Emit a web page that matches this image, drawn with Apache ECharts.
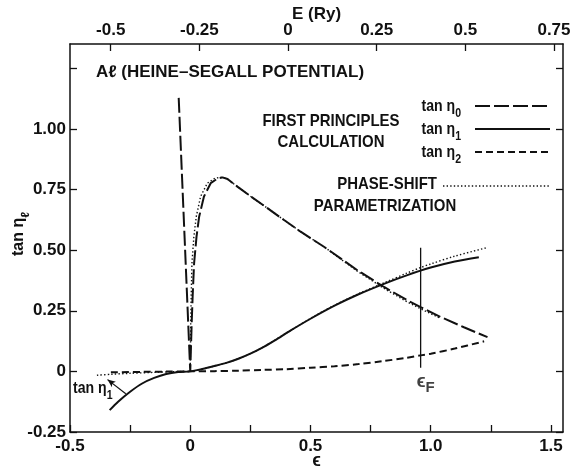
<!DOCTYPE html>
<html>
<head>
<meta charset="utf-8">
<script src="https://cdn.jsdelivr.net/npm/echarts@6/dist/echarts.min.js"></script>
<style>
  html, body { margin: 0; padding: 0; background: #fff; }
  #chart { width: 570px; height: 468px; }
</style>
</head>
<body>
<div id="chart"></div>
<script>
// ---- data: reduced energy ε and tan η_l for aluminium (Heine–Segall potential) ----

// first-principles tan η0 (long dashes)
const eta0Eps = [-0.048, -0.024, 0, 0.003, 0.006, 0.010, 0.016, 0.026, 0.037, 0.057, 0.085, 0.113, 0.134, 0.155, 0.196, 0.252, 0.321, 0.390, 0.459, 0.556, 0.695, 0.806, 0.903, 0.958, 1.042, 1.138, 1.236];
const eta0Tan = [1.128, 0.564, 0, 0.100, 0.200, 0.310, 0.445, 0.555, 0.638, 0.721, 0.776, 0.795, 0.800, 0.793, 0.762, 0.721, 0.673, 0.624, 0.576, 0.514, 0.417, 0.348, 0.293, 0.265, 0.224, 0.182, 0.141];

// first-principles tan η1 (solid)
const eta1Eps = [-0.335, -0.300, -0.250, -0.200, -0.150, -0.100, -0.050, 0, 0.050, 0.100, 0.150, 0.200, 0.250, 0.300, 0.350, 0.418, 0.500, 0.600, 0.700, 0.800, 0.900, 1.000, 1.100, 1.200];
const eta1Tan = [-0.160, -0.125, -0.084, -0.050, -0.027, -0.011, -0.003, 0, 0.010, 0.022, 0.035, 0.052, 0.073, 0.098, 0.127, 0.169, 0.217, 0.271, 0.318, 0.359, 0.396, 0.428, 0.453, 0.471];

// first-principles tan η2 (short dashes)
const eta2Eps = [-0.330, -0.200, -0.100, 0, 0.100, 0.200, 0.300, 0.400, 0.500, 0.600, 0.700, 0.800, 0.900, 0.958, 1.000, 1.100, 1.222];
const eta2Tan = [-0.004, -0.002, -0.001, 0, 0.001, 0.003, 0.006, 0.009, 0.015, 0.021, 0.030, 0.042, 0.056, 0.066, 0.073, 0.094, 0.124];

// phase-shift parametrization (dotted), l = 0 branch
const fitEta0Eps = [0, 0.001, 0.002, 0.004, 0.007, 0.015, 0.025, 0.043, 0.071, 0.103, 0.134, 0.155, 0.196, 0.252, 0.321, 0.390, 0.459, 0.556, 0.695, 0.806, 0.903, 0.958, 1.042];
const fitEta0Tan = [0, 0.100, 0.200, 0.310, 0.445, 0.555, 0.638, 0.721, 0.776, 0.797, 0.800, 0.793, 0.762, 0.721, 0.673, 0.624, 0.576, 0.514, 0.413, 0.342, 0.286, 0.258, 0.218];

// phase-shift parametrization (dotted), l = 1 branch
const fitEta1Eps = [-0.388, -0.330, -0.250, -0.150, -0.050, 0, 0.100, 0.200, 0.300, 0.418, 0.556, 0.695, 0.806, 0.900, 0.958, 1.000, 1.100, 1.233];
const fitEta1Tan = [-0.016, -0.012, -0.008, -0.004, -0.001, 0, 0.022, 0.052, 0.098, 0.169, 0.250, 0.318, 0.365, 0.405, 0.428, 0.443, 0.475, 0.510];

// Fermi level marker
const epsFermi = 0.958;
const fermiTan = [0.510, 0.015];

// "tan η1" pointer near the negative-energy end
const pointerFrom = [-0.344, -0.034];
const pointerTo = [-0.268, -0.092];

// ---- axes ----
const epsMin = -0.5, epsMax = 1.55;
const tanMin = -0.25, tanMax = 1.35;
const epsTickValues = [-0.5, -0.25, 0, 0.25, 0.5, 0.75, 1.0, 1.25, 1.5];
const epsLabelValues = [-0.5, 0, 0.5, 1.0, 1.5];
const epsLabels = ['-0.5', '0', '0.5', '1.0', '1.5'];
const tanTickValues = [-0.25, 0, 0.25, 0.5, 0.75, 1.0, 1.25];
const tanLabelValues = [-0.25, 0, 0.25, 0.5, 0.75, 1.0];
const tanLabels = ['-0.25', '0', '0.25', '0.50', '0.75', '1.00'];
// energy in Rydberg on the top axis: E = ryAtEpsZero + ryPerEps * ε
const ryAtEpsZero = -0.2758;
const ryPerEps = 0.6782;
const ryValues = [-0.5, -0.25, 0, 0.25, 0.5, 0.75];
const ryLabels = ['-0.5', '-0.25', '0', '0.25', '0.5', '0.75'];

const ink = '#111';
const fontFamily = "'Liberation Sans', 'DejaVu Sans', Arial, sans-serif";
const dashLong = [15, 4];
const dashShort = [7, 4];
const dotted = [1.4, 2.2];

const pairs = (xs, ys) => xs.map((x, i) => [x, ys[i]]);
const labelFor = (values, labels) => v => {
  const i = values.findIndex(t => Math.abs(t - v) < 1e-9);
  return i < 0 ? '' : labels[i];
};

const subRich = {
  t: { fontSize: 16, fontWeight: 'bold', fontFamily, lineHeight: 26, color: ink },
  s: { fontSize: 12, fontWeight: 'bold', fontFamily, lineHeight: 12, verticalAlign: 'bottom', color: ink }
};
const labelFont = { fontSize: 17, fontWeight: 'bold', fontFamily, color: ink };
const frameLine = { show: true, onZero: false, lineStyle: { color: ink, width: 1.5 } };
const tickStyle = { show: true, inside: true, length: 7, lineStyle: { color: ink, width: 1.3 } };
const xLabelAlign = { alignMinLabel: 'center', alignMaxLabel: 'center' };
const yLabelAlign = { verticalAlignMinLabel: 'middle', verticalAlignMaxLabel: 'middle' };

const lineSeries = (name, data, type, width, smooth) => ({
  name, type: 'line', data,
  xAxisIndex: 0, yAxisIndex: 0,
  symbol: 'none', smooth: smooth || false, silent: true,
  lineStyle: { color: ink, width, type, cap: 'butt' }
});

const narrow = 0.88;
const textEl = (x, y, text, align, extra) => Object.assign({
  type: 'text', x, y, scaleX: narrow, silent: true,
  style: Object.assign({
    text, fill: ink, fontSize: 17, fontWeight: 'bold', fontFamily,
    align, textAlign: align, verticalAlign: 'middle', textVerticalAlign: 'middle'
  }, extra || {})
});
const sampleEl = (x1, x2, y, dash, width) => ({
  type: 'line', silent: true,
  shape: { x1, y1: y, x2, y2: y },
  style: { stroke: ink, lineWidth: width, lineDash: dash, lineCap: 'butt' }
});

const chart = echarts.init(document.getElementById('chart'), null, { renderer: 'canvas' });

chart.setOption({
  animation: false,
  backgroundColor: '#fff',
  title: {
    text: 'Aℓ (HEINE–SEGALL POTENTIAL)',
    left: 91, top: 59,
    textStyle: { fontSize: 17, fontWeight: 'bold', fontFamily, color: ink }
  },
  // the plot frame is placed exactly; labels and names sit outside it
  grid: { left: 70, right: 7, top: 44, bottom: 36, containLabel: false, outerBoundsMode: 'none' },
  xAxis: [
    {
      type: 'value', position: 'bottom', min: epsMin, max: epsMax,
      name: 'ϵ', nameLocation: 'middle', nameGap: 20, nameMoveOverlap: false,
      nameTextStyle: { fontSize: 18, fontWeight: 'bold', fontFamily, color: ink },
      axisLine: frameLine,
      axisTick: Object.assign({ customValues: epsTickValues }, tickStyle),
      axisLabel: Object.assign({ customValues: epsLabelValues, margin: 6, formatter: labelFor(epsLabelValues, epsLabels) }, labelFont, xLabelAlign),
      splitLine: { show: false }
    },
    {
      type: 'value', position: 'top',
      min: ryAtEpsZero + ryPerEps * epsMin, max: ryAtEpsZero + ryPerEps * epsMax,
      name: 'E (Ry)', nameLocation: 'middle', nameGap: 21, nameMoveOverlap: false,
      nameTextStyle: { fontSize: 17, fontWeight: 'bold', fontFamily, color: ink },
      axisLine: frameLine,
      axisTick: Object.assign({ customValues: ryValues }, tickStyle),
      axisLabel: Object.assign({ customValues: ryValues, margin: 5, formatter: labelFor(ryValues, ryLabels) }, labelFont, xLabelAlign),
      splitLine: { show: false }
    }
  ],
  yAxis: [
    {
      type: 'value', position: 'left', min: tanMin, max: tanMax,
      name: '{t|tan η}{s|ℓ}', nameLocation: 'middle', nameGap: 38, nameMoveOverlap: false,
      nameTextStyle: { rich: subRich, padding: [0, 0, 0, 8] },
      axisLine: frameLine,
      axisTick: Object.assign({ customValues: tanTickValues }, tickStyle),
      axisLabel: Object.assign({ customValues: tanLabelValues, margin: 4, formatter: labelFor(tanLabelValues, tanLabels) }, labelFont, yLabelAlign),
      splitLine: { show: false }
    },
    {
      type: 'value', position: 'right', min: tanMin, max: tanMax,
      axisLine: frameLine,
      axisTick: Object.assign({ customValues: tanTickValues }, tickStyle),
      axisLabel: { show: false },
      splitLine: { show: false }
    }
  ],
  series: [
    lineSeries('phase-shift fit η0', pairs(fitEta0Eps, fitEta0Tan), dotted, 1.4),
    lineSeries('phase-shift fit η1', pairs(fitEta1Eps, fitEta1Tan), dotted, 1.4, 0.3),
    lineSeries('tan η0', pairs(eta0Eps, eta0Tan), dashLong, 2),
    Object.assign(lineSeries('tan η1', pairs(eta1Eps, eta1Tan), 'solid', 2, 0.3), {
      markLine: {
        silent: true, animation: false,
        symbol: ['arrow', 'none'], symbolSize: [5, 8],
        lineStyle: { color: ink, width: 1.2, type: 'solid' },
        label: { show: false },
        data: [[{ coord: pointerFrom }, { coord: pointerTo }]]
      }
    }),
    lineSeries('tan η2', pairs(eta2Eps, eta2Tan), dashShort, 2, 0.3),
    lineSeries('Fermi level', [[epsFermi, fermiTan[0]], [epsFermi, fermiTan[1]]], 'solid', 1.3),
    {
      name: 'Fermi label', type: 'scatter', silent: true,
      data: [[epsFermi, fermiTan[1]]],
      symbolSize: 1, itemStyle: { color: 'transparent' },
      label: {
        show: true, position: 'bottom', distance: 1, offset: [5, 0],
        formatter: '{e|ϵ}{f|F}',
        rich: {
          e: { fontSize: 19, fontWeight: 'bold', fontFamily, lineHeight: 26, color: ink },
          f: { fontSize: 15, fontWeight: 'bold', fontFamily, lineHeight: 14, verticalAlign: 'bottom', color: ink }
        }
      }
    }
  ],
  graphic: [
    textEl(331, 121, 'FIRST PRINCIPLES', 'center'),
    textEl(331, 142, 'CALCULATION', 'center'),
    textEl(461, 107, '{t|tan η}{s|0}', 'right', { rich: subRich }),
    textEl(461, 130, '{t|tan η}{s|1}', 'right', { rich: subRich }),
    textEl(461, 153, '{t|tan η}{s|2}', 'right', { rich: subRich }),
    sampleEl(475, 550, 106, dashLong, 2),
    sampleEl(475, 550, 129, null, 2),
    sampleEl(475, 550, 152, dashShort, 2),
    textEl(437, 184, 'PHASE-SHIFT', 'right'),
    sampleEl(443, 550, 186, dotted, 1.4),
    textEl(385, 206, 'PARAMETRIZATION', 'center'),
    textEl(73, 389, '{t|tan η}{s|1}', 'left', { rich: subRich })
  ]
});
</script>
</body>
</html>
